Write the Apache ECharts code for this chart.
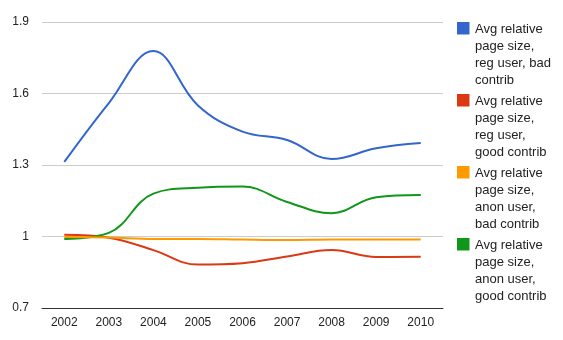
<!DOCTYPE html>
<html><head><meta charset="utf-8">
<script src="https://cdn.jsdelivr.net/npm/echarts@6/dist/echarts.min.js"></script>
<style>html,body{margin:0;padding:0;background:#fff}#c{width:563px;height:340px}</style>
</head><body><div id="c"></div>
<script>
const years = ['2002','2003','2004','2005','2006','2007','2008','2009','2010'];
const seriesNames = [
  'Avg relative page size, reg user, bad contrib',
  'Avg relative page size, reg user, good contrib',
  'Avg relative page size, anon user, bad contrib',
  'Avg relative page size, anon user, good contrib'
];
const legendLines = [
  ['Avg relative','page size,','reg user, bad','contrib'],
  ['Avg relative','page size,','reg user,','good contrib'],
  ['Avg relative','page size,','anon user,','bad contrib'],
  ['Avg relative','page size,','anon user,','good contrib']
];
const regBad   = [1.313, 1.56, 1.778, 1.55, 1.44, 1.405, 1.325, 1.37, 1.392];
const regGood  = [1.007, 0.995, 0.943, 0.882, 0.888, 0.916, 0.943, 0.914, 0.915];
const anonBad  = [0.998, 0.996, 0.99, 0.99, 0.987, 0.985, 0.987, 0.987, 0.987];
const anonGood = [0.99, 1.015, 1.18, 1.205, 1.21, 1.145, 1.098, 1.165, 1.174];
const colors = ['#3366cc','#dc3912','#ff9900','#109618'];
const values = [regBad, regGood, anonBad, anonGood];

const font = 'Arial, "Liberation Sans", sans-serif';
const chart = echarts.init(document.getElementById('c'));
const graphics = [];
legendLines.forEach((lines, i) => {
  const top = 22 + i * 72;
  graphics.push({type:'rect', left:457, top:top, shape:{width:12.5, height:12.5}, style:{fill:colors[i]}, silent:true});
  graphics.push({type:'text', left:475, top:top - 1.5, style:{text: lines.join('\n'), font:'13px ' + font, lineHeight:17, fill:'#222'}, silent:true});
});
chart.setOption({
  animation:false,
  color: colors,
  grid:{left:42, right:120, top:22, bottom:32},
  xAxis:{type:'category', data:years, boundaryGap:true,
    axisLine:{lineStyle:{color:'#333', width:1}}, axisTick:{show:false},
    axisLabel:{color:'#222', fontSize:12, fontFamily:font, margin:9}},
  yAxis:{type:'value', min:0.7, max:1.9, interval:0.3,
    axisLine:{show:false}, axisTick:{show:false},
    splitLine:{lineStyle:{color:'#cccccc', width:1}},
    axisLabel:{color:'#222', fontSize:12, fontFamily:font, margin:13,
      formatter: v => String(+v.toFixed(1))}},
  graphic: graphics,
  series: values.map((d, i) => ({
    name: seriesNames[i], type:'line', data:d, smooth:0.4, showSymbol:false,
    lineStyle:{width:2, color:colors[i]}, z: i === 2 ? 3 : 2
  }))
});
</script></body></html>
